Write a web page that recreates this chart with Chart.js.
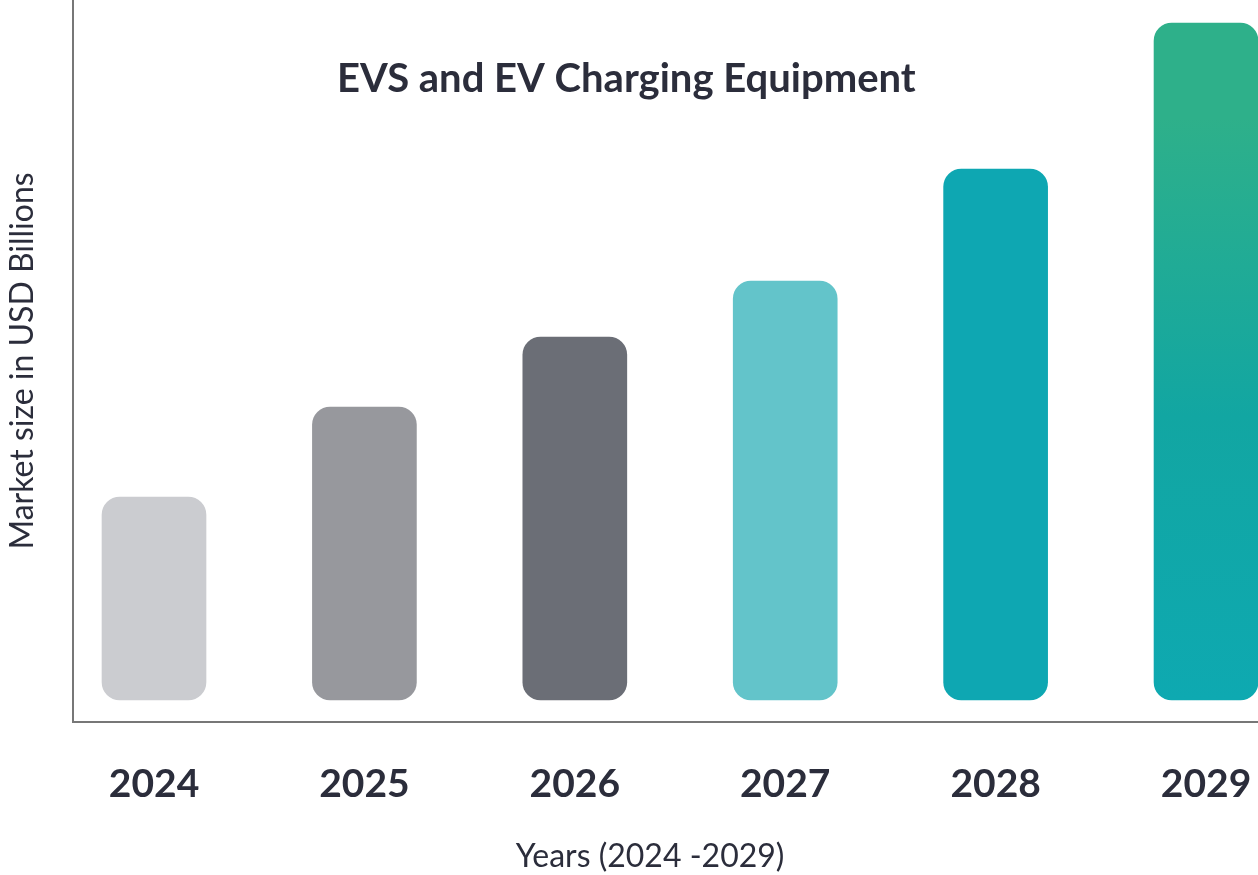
<!DOCTYPE html>
<html>
<head>
<meta charset="utf-8">
<script src="https://cdn.jsdelivr.net/npm/chart.js@4/dist/chart.umd.min.js"></script>
<style>
  html, body { margin: 0; padding: 0; background: #ffffff; }
  #wrap { width: 1258px; height: 875px; position: relative; }
</style>
</head>
<body>
<div id="wrap"><canvas id="c"></canvas></div>
<script>
// ---- data ----
const categories = ["2024", "2025", "2026", "2027", "2028", "2029"];
const marketSize = [20.3, 29.3, 36.3, 41.9, 53.1, 67.7];
const chartTitle = "EVS and EV Charging Equipment";
const xAxisTitle = "Years (2024 -2029)";
const yAxisTitle = "Market size in USD Billions";

// ---- styles ----
const barColors = ["#CBCCD0", "#97989D", "#6B6E76", "#63C4CA", "#0EA7B2", null];
const gradTop = "#2EB08A";
const gradMid = "#12A6A2";
const gradBottom = "#0EA9B1";
const textColor = "#2B2D3B";
const axisColor = "#777777";

const points = marketSize.map((v, i) => ({ x: i, y: v }));

const textPlugin = {
  id: 'extraText',
  afterDraw(chart) {
    const { ctx, chartArea } = chart;
    const w = chartArea.right - chartArea.left;
    ctx.save();
    ctx.fillStyle = textColor;
    ctx.textAlign = "center";
    ctx.textBaseline = "middle";
    ctx.font = "bold 40px Lato";
    ctx.fillText(chartTitle, chartArea.left + w * 0.467, chartArea.top + 79);
    ctx.font = "32px Lato";
    ctx.fillText(xAxisTitle, chartArea.left + w * 0.487, chart.height - 18);
    ctx.restore();
  }
};

new Chart(document.getElementById('c'), {
  type: 'bar',
  data: {
    datasets: [{
      data: points,
      barThickness: 104,
      borderRadius: 18,
      borderSkipped: false,
      backgroundColor: (ctx) => {
        const i = ctx.dataIndex;
        if (barColors[i]) return barColors[i];
        const chart = ctx.chart;
        const y = chart.scales && chart.scales.y;
        if (!chart.chartArea || !y) return gradBottom;
        const top = y.getPixelForValue(marketSize[i]);
        const bot = y.getPixelForValue(0);
        const g = chart.ctx.createLinearGradient(0, top, 0, bot);
        g.addColorStop(0, gradTop);
        g.addColorStop(0.14, gradTop);
        g.addColorStop(0.58, gradMid);
        g.addColorStop(1, gradBottom);
        return g;
      }
    }]
  },
  options: {
    responsive: true,
    maintainAspectRatio: false,
    animation: false,
    layout: { padding: { top: 0, left: 0, right: 0, bottom: 29 } },
    plugins: {
      legend: { display: false },
      tooltip: { enabled: false },
      title: { display: false }
    },
    scales: {
      x: {
        type: 'linear',
        offset: false,
        bounds: 'data',
        min: -0.385,
        max: 5.247,
        grid: { display: false, drawTicks: false, offset: false },
        border: { display: true, color: axisColor, width: 2 },
        afterBuildTicks: (scale) => { scale.ticks = categories.map((c, i) => ({ value: i })); },
        ticks: {
          autoSkip: false,
          maxRotation: 0,
          padding: 0,
          color: textColor,
          font: { family: 'Lato', size: 39, weight: 'bold', lineHeight: 3.18 },
          callback: (v) => categories[Math.round(v)]
        },
        title: { display: false }
      },
      y: {
        min: -2.2,
        max: 70,
        grid: { display: false, drawTicks: false },
        border: { display: true, color: axisColor, width: 2 },
        ticks: { display: false },
        title: {
          display: true,
          text: yAxisTitle,
          color: textColor,
          font: { family: 'Lato', size: 32, weight: 'normal', lineHeight: 1.2 },
          padding: { top: 3, bottom: 31.6 }
        }
      }
    }
  },
  plugins: [textPlugin]
});
</script>
</body>
</html>
